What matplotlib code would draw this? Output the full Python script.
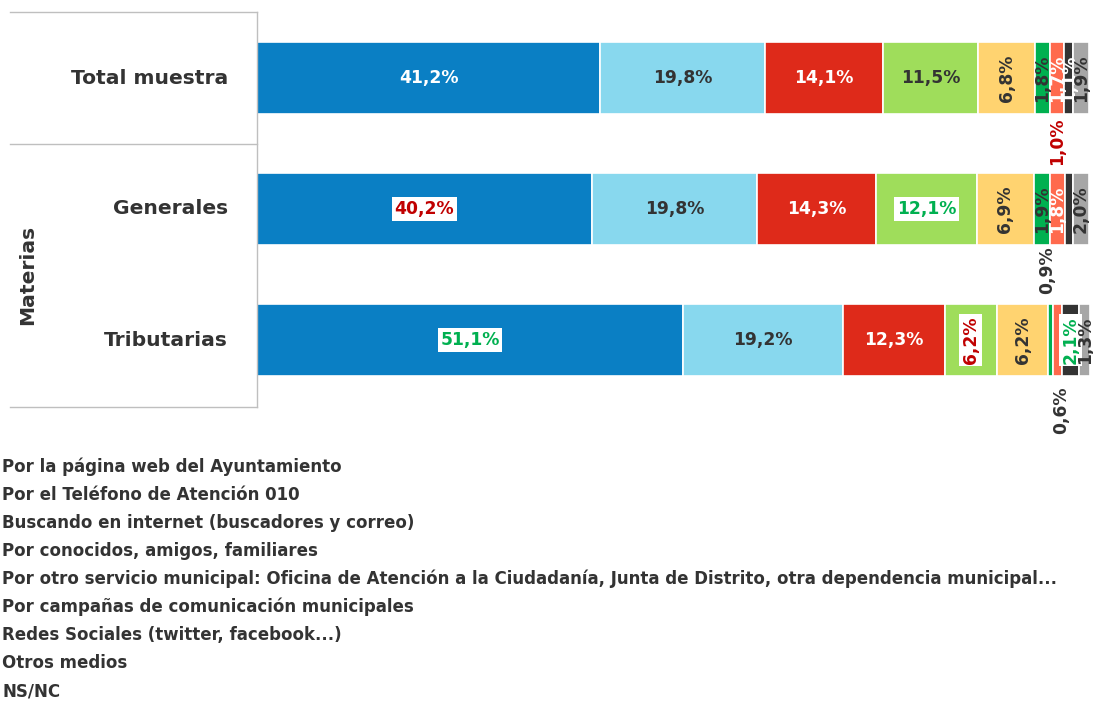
import matplotlib
matplotlib.use("Agg")
import matplotlib.pyplot as plt
from matplotlib.lines import Line2D
import numpy as np

plt.rcParams['font.family'] = ['DejaVu Sans']

categories = ["Total muestra", "Generales", "Tributarias"]
group_label = "Materias"
series_names = [
    "Por la página web del Ayuntamiento",
    "Por el Teléfono de Atención 010",
    "Buscando en internet (buscadores y correo)",
    "Por conocidos, amigos, familiares",
    "Por otro servicio municipal: Oficina de Atención a la Ciudadanía, Junta de Distrito, otra dependencia municipal...",
    "Por campañas de comunicación municipales",
    "Redes Sociales (twitter, facebook...)",
    "Otros medios",
    "NS/NC",
]
total_vals = [41.2, 19.8, 14.1, 11.5, 6.8, 1.8, 1.7, 1.1, 1.9]
generales_vals = [40.2, 19.8, 14.3, 12.1, 6.9, 1.9, 1.8, 0.9, 2.0]
tributarias_vals = [51.1, 19.2, 12.3, 6.2, 6.2, 0.6, 1.0, 2.1, 1.3]

colors = ["#0A7FC4", "#88D8EE", "#DE2A1A", "#9FDD5B", "#FFD370",
          "#00B050", "#FF6A4D", "#333333", "#A6A6A6"]
DARK = "#333333"
WHITE = "#FFFFFF"
RED = "#C00000"
GREEN = "#00B050"

data = np.array([total_vals, generales_vals, tributarias_vals])

W, H = 1093, 702
fig = plt.figure(figsize=(W / 100, H / 100), dpi=100)

ax_left, ax_right = 257, 1090
ax_top, ax_bot = 12, 407
ax = fig.add_axes([ax_left / W, 1 - ax_bot / H, (ax_right - ax_left) / W, (ax_bot - ax_top) / H])
ax.set_xlim(0, 100)
unit = 131.0
top_units = (78 - ax_top) / unit
ax.set_ylim(-top_units + (ax_bot - ax_top) / unit, -top_units)
ax.axis('off')

bar_h = 72 / unit
ypos = np.arange(len(categories))
lefts = np.zeros(len(categories))
for j in range(data.shape[1]):
    ax.barh(ypos, data[:, j], left=lefts, height=bar_h, color=colors[j],
            edgecolor="white", linewidth=1.2)
    lefts = lefts + data[:, j]

cum = np.cumsum(data, axis=1) - data / 2.0

def fmt(v):
    return f"{v:.1f}".replace(".", ",") + "%"

lbl_color = {
    0: [WHITE, DARK, WHITE, DARK, DARK, DARK, WHITE, WHITE, DARK],
    1: [RED, DARK, WHITE, GREEN, DARK, DARK, WHITE, DARK, DARK],
    2: [GREEN, DARK, WHITE, RED, DARK, DARK, RED, GREEN, DARK],
}
boxed = {(1, 0), (1, 3), (2, 0), (2, 3), (2, 7)}
offsets = {(1, 7): (-2.6, 0.47), (2, 5): (1.2, 0.54), (2, 6): (-0.1, -1.52)}
fs = 12.3
for i in range(data.shape[0]):
    for j in range(data.shape[1]):
        v = data[i, j]
        x = cum[i, j]
        y = ypos[i]
        rot = 90 if v < 7 else 0
        dx, dy = offsets.get((i, j), (0, 0))
        kw = {}
        if (i, j) in boxed:
            kw['bbox'] = dict(boxstyle="square,pad=0.15", fc="white", ec="none")
        ax.text(x + dx, y + dy, fmt(v), ha="center", va="center", rotation=rot,
                color=lbl_color[i][j], fontsize=fs, fontweight="bold", zorder=5, **kw)

line_c = "#BFBFBF"
def hline(y, x0, x1):
    fig.add_artist(Line2D([x0 / W, x1 / W], [1 - y / H, 1 - y / H], color=line_c, lw=1))
def vline(x, y0, y1):
    fig.add_artist(Line2D([x / W, x / W], [1 - y0 / H, 1 - y1 / H], color=line_c, lw=1))
hline(12, 10, 257)
hline(144, 10, 257)
hline(407, 10, 257)
vline(257, 12, 407)

for i, c in enumerate(categories):
    yc = [78, 209, 340][i]
    fig.text(228 / W, 1 - yc / H, c, ha="right", va="center", fontsize=14.6,
             fontweight="bold", color=DARK)
fig.text(28 / W, 1 - 275 / H, group_label, ha="center", va="center", rotation=90,
         fontsize=14.6, fontweight="bold", color=DARK)

for k, name in enumerate(series_names):
    fig.text(2 / W, 1 - (467 + 28 * k) / H, name, ha="left", va="center",
             fontsize=12.0, fontweight="bold", color=DARK)

fig.savefig("out.png", dpi=100)
